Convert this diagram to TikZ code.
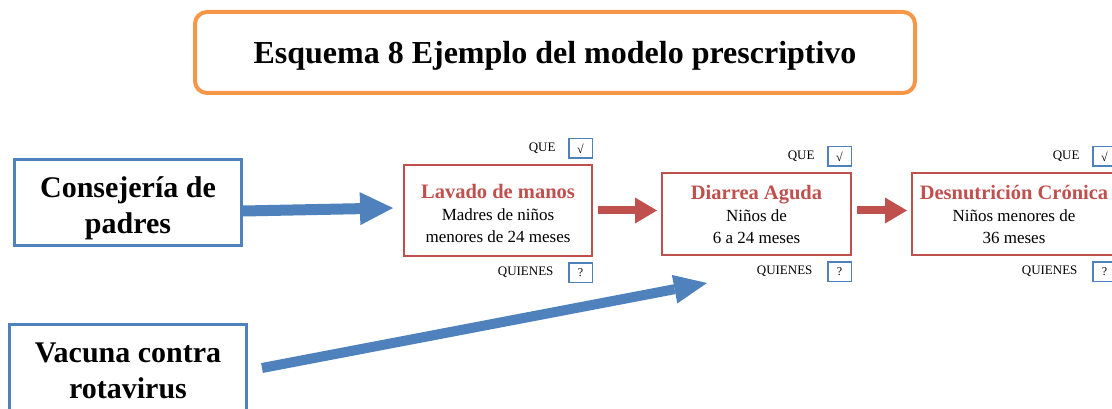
\documentclass[tikz,border=0pt]{standalone}
\usepackage{fontspec}
\setmainfont{Liberation Serif}
\usetikzlibrary{arrows.meta}
\definecolor{offblue}{HTML}{4F81BD}
\definecolor{offred}{HTML}{C0504D}
\definecolor{offorange}{HTML}{F79646}
\newcommand\boxhead[1]{{\color{offred}\fontsize{20.5}{22}\selectfont\bfseries #1}}
\newcommand\tallup[1]{\rule{0pt}{#1}}

\begin{document}
\begin{tikzpicture}[
  x=1pt, y=-1pt,
  title/.style={draw=offorange,line width=4pt,rounded corners=12pt,
    minimum width=720pt,minimum height=81pt,font=\fontsize{32}{38}\selectfont\bfseries},
  cause/.style={draw=offblue,line width=3pt,align=center,inner sep=0pt,
    font=\fontsize{30}{36}\selectfont\bfseries},
  effect/.style={draw=offred,line width=2pt,align=center,inner sep=0pt,
    minimum height=82pt,font=\fontsize{17}{22}\selectfont},
  tick/.style={draw=offblue,line width=1.5pt,minimum width=23.5pt,minimum height=19.5pt,
    inner sep=0pt,font=\fontsize{12}{12}\selectfont},
  tag/.style={font=\fontsize{13}{13}\selectfont},
  bluearrow/.style={draw=offblue,line width=11pt,
    -{Triangle[length=33pt,width=33pt,line width=0pt]}},
  redarrow/.style={draw=offred,line width=8pt,
    -{Triangle[length=22pt,width=26pt,line width=0pt]}},
  ]
  \useasboundingbox (0,0) rectangle (1112,409);
  \clip (0,0) rectangle (1112,409);

  \node[title] (ttl) at (555,52.5) {\tallup{28pt}Esquema 8 Ejemplo del modelo prescriptivo};

  \node[cause,minimum width=227pt,minimum height=86pt] (cons) at (128,202.5)
    {\tallup{33pt}Consejería de\\padres};
  \node[cause,minimum width=237pt,minimum height=92pt] (vac) at (128,370.5)
    {Vacuna contra\\rotavirus};

  \node[effect,minimum width=188pt,minimum height=91pt] (lav) at (498,210.5)
    {\tallup{20pt}\boxhead{Lavado de manos}\\Madres de niños\\menores de 24 meses};
  \node[effect,minimum width=189pt] (dia) at (756.5,214)
    {\boxhead{Diarrea Aguda}\\Niños de\\6 a 24 meses};
  \node[effect,minimum width=204pt] (des) at (1014,214)
    {\boxhead{Desnutrición Crónica}\\Niños menores de\\36 meses};

  % que / quienes
  \node[tick,anchor=south east] (lavq) at ([yshift=5pt]lav.north east) {√};
  \node[tick,anchor=north east] (lavw) at ([yshift=-5pt]lav.south east) {?};
  \node[tag,anchor=east] (lavqt) at ([xshift=-9pt]lavq.west) {QUE};
  \node[tag,anchor=east] (lavwt) at ([xshift=-11pt]lavw.west) {QUIENES};

  \node[tick,anchor=south east] (diaq) at ([yshift=5pt]dia.north east) {√};
  \node[tick,anchor=north east] (diaw) at ([yshift=-5pt]dia.south east) {?};
  \node[tag,anchor=east] (diaqt) at ([xshift=-9pt]diaq.west) {QUE};
  \node[tag,anchor=east] (diawt) at ([xshift=-11pt]diaw.west) {QUIENES};

  \node[tick,anchor=south east] (desq) at ([yshift=5pt]des.north east) {√};
  \node[tick,anchor=north east] (desw) at ([yshift=-5pt]des.south east) {?};
  \node[tag,anchor=east] (desqt) at ([xshift=-9pt]desq.west) {QUE};
  \node[tag,anchor=east] (deswt) at ([xshift=-11pt]desw.west) {QUIENES};

  \path
  ([yshift=-8.5pt]cons.east) edge[bluearrow] ([xshift=-10pt,yshift=2.5pt]lav.west)
  ([xshift=14pt,yshift=2.5pt]vac.east) edge[bluearrow,line width=10pt,
    -{Triangle[length=33pt,width=29pt,line width=0pt]}]
    ([xshift=46pt,yshift=-27pt]dia.south west)
  ([xshift=5pt]lav.east) edge[redarrow] ([xshift=-4pt]lav.east -| dia.west)
  ([xshift=5pt]lav.east -| dia.east) edge[redarrow] ([xshift=-4pt]lav.east -| des.west);
\end{tikzpicture}
\end{document}
